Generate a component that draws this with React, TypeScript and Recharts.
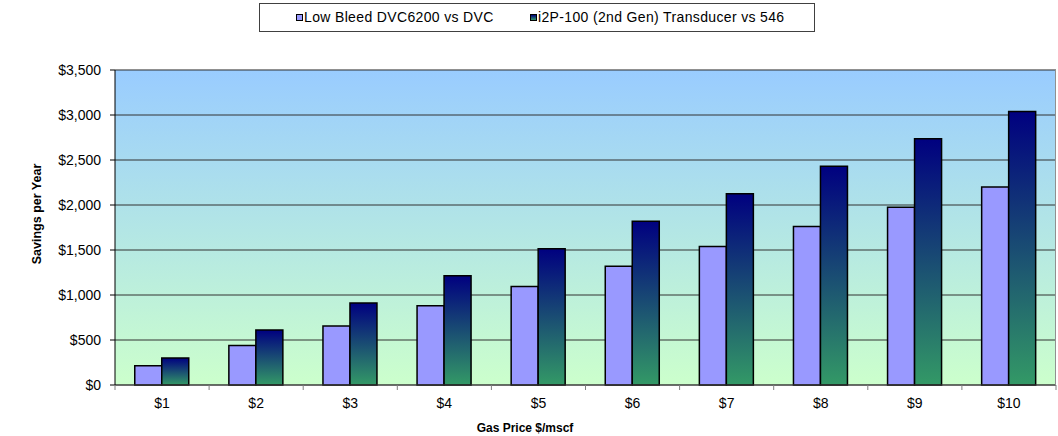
import { BarChart, Bar, XAxis, YAxis, CartesianGrid, Legend } from "recharts";

// values
const categories = ["$1", "$2", "$3", "$4", "$5", "$6", "$7", "$8", "$9", "$10"];
const lowBleed = [215, 440, 655, 880, 1095, 1320, 1540, 1760, 1975, 2200];
const i2p = [300, 610, 910, 1215, 1515, 1820, 2125, 2430, 2735, 3040];
const yTicks = [0, 500, 1000, 1500, 2000, 2500, 3000, 3500];

const series = [
  { key: "lowBleed", name: "Low Bleed DVC6200 vs DVC", fill: "#9999FF", swatch: "#9999FF" },
  {
    key: "i2p",
    name: "i2P-100 (2nd Gen) Transducer vs 546",
    fill: "url(#i2pGrad)",
    swatch: "linear-gradient(#000080, #339966)",
  },
];

const data = categories.map((c, i) => ({ name: c, lowBleed: lowBleed[i], i2p: i2p[i] }));

const FONT = '"Liberation Sans", Arial, sans-serif';

// plot frame in page coords (body margin is removed below)
const PLOT_LEFT = 115;
const PLOT_RIGHT = 1056;
const PLOT_TOP = 70;
const PLOT_BOTTOM = 385;
const BAND = (PLOT_RIGHT - PLOT_LEFT) / categories.length;

const fmtMoney = (v: number) => "$" + v.toLocaleString("en-US");

// x ticks sit between categories, labels in the middle
function XTick(props: any) {
  const { x, payload, index } = props;
  const left = x - BAND / 2;
  return (
    <g>
      <line x1={left} y1={PLOT_BOTTOM} x2={left} y2={PLOT_BOTTOM + 5} stroke="#808080" />
      {index === categories.length - 1 && (
        <line x1={x + BAND / 2} y1={PLOT_BOTTOM} x2={x + BAND / 2} y2={PLOT_BOTTOM + 5} stroke="#808080" />
      )}
      <text x={x} y={PLOT_BOTTOM + 23} textAnchor="middle" fontSize={14} fontFamily={FONT} fill="#000">
        {payload.value}
      </text>
    </g>
  );
}

function LegendBox() {
  const pos = [
    { m: 36, t: 44 },
    { m: 270, t: 278 },
  ];
  return (
    <div
      style={{
        position: "relative",
        width: 556,
        height: 29,
        boxSizing: "border-box",
        border: "1px solid #404040",
        background: "#fff",
        fontFamily: FONT,
        fontSize: 14,
        letterSpacing: 0.35,
        color: "#000",
      }}
    >
      {series.map((s, i) => (
        <div key={s.key}>
          <span
            style={{
              position: "absolute",
              left: pos[i].m,
              top: 10,
              width: 5,
              height: 5,
              border: "1px solid #000",
              background: s.swatch,
            }}
          />
          <span style={{ position: "absolute", left: pos[i].t, top: 5, whiteSpace: "nowrap" }}>{s.name}</span>
        </div>
      ))}
    </div>
  );
}

export default function App() {
  return (
    <div style={{ position: "relative", width: 1058, height: 436 }}>
      <style>{"body { margin: 0; }"}</style>
      <BarChart
        width={1058}
        height={436}
        data={data}
        margin={{ top: PLOT_TOP, right: 2, left: 0, bottom: 21 }}
        barCategoryGap="21%"
        barGap={0}
      >
        <defs>
          <linearGradient id="plotBg" x1="0" y1="0" x2="0" y2="1">
            <stop offset="0%" stopColor="#99CCFF" />
            <stop offset="100%" stopColor="#CCFFCC" />
          </linearGradient>
          <linearGradient id="i2pGrad" x1="0" y1="0" x2="0" y2="1">
            <stop offset="0%" stopColor="#000080" />
            <stop offset="100%" stopColor="#339966" />
          </linearGradient>
        </defs>
        <CartesianGrid vertical={false} fill="url(#plotBg)" fillOpacity={1} stroke="#333" />
        <XAxis
          dataKey="name"
          height={30}
          axisLine={{ stroke: "#404040" }}
          tickLine={false}
          tick={<XTick />}
          interval={0}
        />
        <YAxis
          width={115}
          domain={[0, 3500]}
          ticks={yTicks}
          interval={0}
          tickFormatter={fmtMoney}
          tickSize={5}
          tickMargin={9}
          axisLine={{ stroke: "#000" }}
          tickLine={{ stroke: "#000" }}
          tick={{ fontSize: 14, fontFamily: FONT, fill: "#000" }}
        />
        <Legend
          layout="horizontal"
          verticalAlign="middle"
          align="center"
          content={() => <LegendBox />}
          wrapperStyle={{ position: "absolute", left: 259, top: 3, width: 556, height: 29 }}
        />
        {series.map((s) => (
          <Bar
            key={s.key}
            dataKey={s.key}
            name={s.name}
            fill={s.fill}
            stroke="#000"
            strokeWidth={1.5}
            isAnimationActive={false}
          />
        ))}
      </BarChart>
      {/* grey frame on top and right of plot area */}
      <div
        style={{
          position: "absolute",
          left: PLOT_LEFT,
          top: PLOT_TOP - 1,
          width: PLOT_RIGHT - PLOT_LEFT - 1,
          height: PLOT_BOTTOM - PLOT_TOP,
          borderTop: "1.5px solid #909090",
          borderRight: "1.5px solid #909090",
          pointerEvents: "none",
        }}
      />
      <div
        style={{
          position: "absolute",
          left: 525,
          top: 428,
          transform: "translate(-50%, -50%)",
          fontFamily: FONT,
          fontWeight: "bold",
          fontSize: 12,
          whiteSpace: "nowrap",
        }}
      >
        Gas Price $/mscf
      </div>
      <div
        style={{
          position: "absolute",
          left: 37,
          top: 214,
          transform: "translate(-50%, -50%) rotate(-90deg)",
          fontFamily: FONT,
          fontWeight: "bold",
          fontSize: 12.5,
          whiteSpace: "nowrap",
        }}
      >
        Savings per Year
      </div>
    </div>
  );
}
